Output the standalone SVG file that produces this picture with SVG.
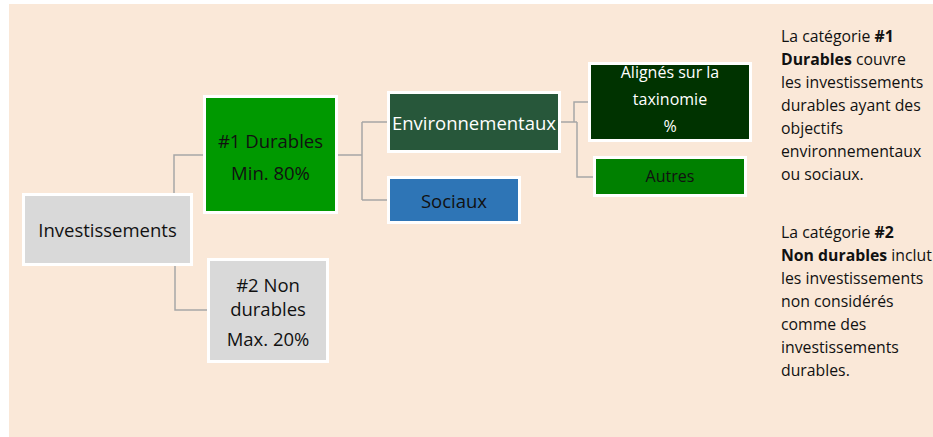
<svg xmlns="http://www.w3.org/2000/svg" width="933" height="437" viewBox="0 0 933 437">
<style>
.t{font-family:"Open Sans","Liberation Sans",sans-serif;text-anchor:middle;dominant-baseline:central}
.m{font-size:18.5px}
.s{font-size:16px}
.box{stroke:#ffffff;stroke-width:3}
.c{fill:none;stroke:#a6a6a6;stroke-width:1.5}
.d{font-family:"Open Sans","Liberation Sans",sans-serif;font-size:15.8px;fill:#111}
</style>
<rect x="9" y="4" width="924" height="433" fill="#fae8d8"/>
<g id="connectors">
<polyline class="c" points="174,194 174,155 204,155"/>
<polyline class="c" points="175,265 175,310 208,310"/>
<polyline class="c" points="338,155 362,155"/>
<polyline class="c" points="362,122 362,200"/>
<polyline class="c" points="362,122 388,122"/>
<polyline class="c" points="362,200 388,200"/>
<polyline class="c" points="561,122 577,122"/>
<polyline class="c" points="574,122 574,102 589,102"/>
<polyline class="c" points="577,122 577,177 594,177"/>
</g>
<g id="investissements">
<rect class="box" x="23.5" y="194.5" width="168" height="70" fill="#d9d9d9"/>
<text class="t m" x="107.5" y="229.5" fill="#111">Investissements</text>
</g>
<g id="durables">
<rect class="box" x="204.5" y="96.5" width="132" height="116" fill="#009900"/>
<text class="t m" x="270.5" y="140" fill="#111">#1 Durables</text>
<text class="t m" x="270.5" y="172" fill="#111">Min. 80%</text>
</g>
<g id="non-durables">
<rect class="box" x="208.5" y="259.5" width="119" height="102" fill="#d9d9d9"/>
<text class="t m" x="268" y="284" fill="#111">#2 Non</text>
<text class="t m" x="268" y="308" fill="#111">durables</text>
<text class="t m" x="268" y="338" fill="#111">Max. 20%</text>
</g>
<g id="environnementaux">
<rect class="box" x="388.5" y="92.5" width="171" height="59" fill="#27573a"/>
<text class="t m" x="474" y="122" fill="#ffffff">Environnementaux</text>
</g>
<g id="sociaux">
<rect class="box" x="388.5" y="177.5" width="131" height="45" fill="#2e75b6"/>
<text class="t m" x="454" y="200" fill="#111">Sociaux</text>
</g>
<g id="alignes">
<rect class="box" x="589.5" y="63.5" width="161" height="77" fill="#003300"/>
<text class="t s" x="670" y="72" fill="#ffffff">Alignés sur la</text>
<text class="t s" x="670" y="99" fill="#ffffff">taxinomie</text>
<text class="t s" x="670" y="126" fill="#ffffff">%</text>
</g>
<g id="autres">
<rect class="box" x="594.5" y="157.5" width="151" height="38" fill="#008000"/>
<text class="t s" x="670" y="176" fill="#111">Autres</text>
</g>
<g id="note1">
<text class="d" x="781" y="42">La catégorie <tspan font-weight="bold">#1</tspan></text>
<text class="d" x="781" y="65"><tspan font-weight="bold">Durables</tspan> couvre</text>
<text class="d" x="781" y="88">les investissements</text>
<text class="d" x="781" y="111">durables ayant des</text>
<text class="d" x="781" y="134">objectifs</text>
<text class="d" x="781" y="157">environnementaux</text>
<text class="d" x="781" y="180">ou sociaux.</text>
</g>
<g id="note2">
<text class="d" x="781" y="238">La catégorie <tspan font-weight="bold">#2</tspan></text>
<text class="d" x="781" y="261"><tspan font-weight="bold">Non durables</tspan> inclut</text>
<text class="d" x="781" y="284">les investissements</text>
<text class="d" x="781" y="307">non considérés</text>
<text class="d" x="781" y="330">comme des</text>
<text class="d" x="781" y="353">investissements</text>
<text class="d" x="781" y="376">durables.</text>
</g>
</svg>
